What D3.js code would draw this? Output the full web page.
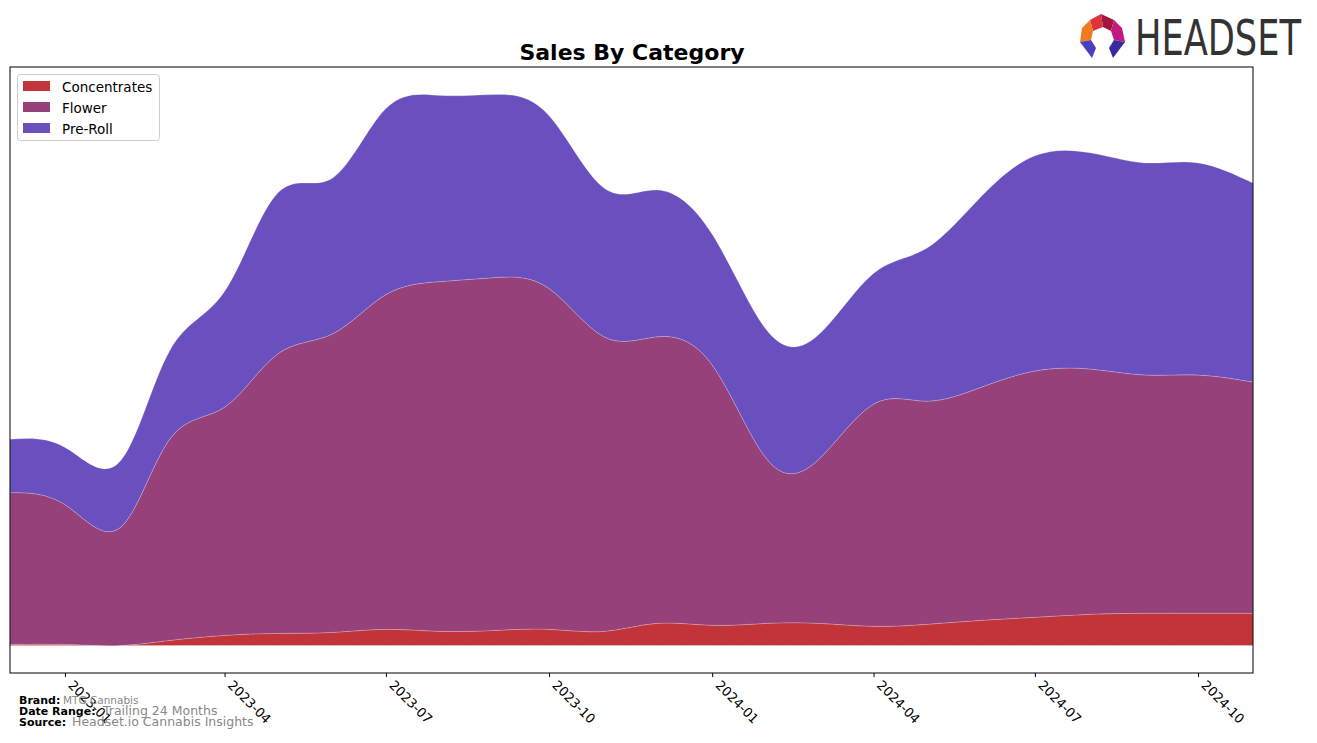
<!DOCTYPE html>
<html><head><meta charset="utf-8">
<script src="https://cdn.jsdelivr.net/npm/d3@7/dist/d3.min.js"></script>
<style>body{margin:0;background:#fff;} svg{display:block;}</style>
</head><body>
<svg id="chart" width="1317" height="743"></svg>
<script>
const months = ["2022-12","2023-01","2023-02","2023-03","2023-04","2023-05","2023-06","2023-07","2023-08","2023-09","2023-10","2023-11","2023-12","2024-01","2024-02","2024-03","2024-04","2024-05","2024-06","2024-07","2024-08","2024-09","2024-10","2024-11"];
const categories = ["Concentrates","Flower","Pre-Roll"];
const concentrates = [1,1,0,5,10,12,13,16,14,15,16,14,22,20,22,22,19,21,25,28,31,32,32,32];
const flower = [151,139,117,200,227,278,297,333,348,351,339,293,285,259,163,163,221,222,232,245,244,237,237,230];
const preRoll = [53,57,66,88,115,160,155,185,185,182,172,148,146,130,128,124,130,152,190,214,215,211,211,198];
const tickLabels = ["2023-01","2023-04","2023-07","2023-10","2024-01","2024-04","2024-07","2024-10"];
const colors = ["#c0343a","#964179","#6a4fbf"];

const svg = d3.select("#chart");
const L = 10, R = 1253, T = 67, B = 673;
const parse = d3.timeParse("%Y-%m");
const dates = months.map(parse);
const rows = months.map((m,i)=>({date:dates[i],"Concentrates":concentrates[i],"Flower":flower[i],"Pre-Roll":preRoll[i]}));
const stack = d3.stack().keys(categories)(rows);
const maxV = d3.max(stack[stack.length-1], d=>d[1]);
const x = d3.scaleTime().domain([dates[0], dates[dates.length-1]]).range([L,R]);
const y = d3.scaleLinear().domain([-0.05*maxV, 1.05*maxV]).range([B,T]);

svg.append("defs").append("clipPath").attr("id","clip").append("rect")
  .attr("x",L).attr("y",T).attr("width",R-L).attr("height",B-T);

const area = d3.area().x((d,i)=>x(dates[i])).y0(d=>y(d[0])).y1(d=>y(d[1])).curve(d3.curveNatural);
svg.append("g").attr("clip-path","url(#clip)").selectAll("path").data(stack).join("path")
  .attr("d", area).attr("fill",(d,i)=>colors[i])
  .attr("stroke", "rgba(255,255,255,0.25)").attr("stroke-width",0.8);

// frame
svg.append("rect").attr("x",L).attr("y",T).attr("width",R-L).attr("height",B-T)
  .attr("fill","none").attr("stroke","#000").attr("stroke-width",1);

// x axis
const xAxis = d3.axisBottom(x).tickValues(tickLabels.map(parse)).tickFormat(d3.timeFormat("%Y-%m")).tickSize(4).tickPadding(3);
const gx = svg.append("g").attr("transform",`translate(0,${B})`).call(xAxis);
gx.select(".domain").remove();
gx.selectAll(".tick line").attr("stroke","#000");
gx.selectAll(".tick text").attr("font-family","DejaVu Sans").attr("font-size",13).attr("fill","#000")
  .attr("text-anchor","start").attr("dy",0).attr("y",0)
  .attr("transform","translate(2,13) rotate(45)");

// title
svg.append("text").attr("x",632).attr("y",60).attr("text-anchor","middle")
  .attr("font-family","DejaVu Sans").attr("font-weight","bold").attr("font-size",22).text("Sales By Category");

// legend
const lg = svg.append("g");
lg.append("rect").attr("x",17.5).attr("y",74.5).attr("width",142).attr("height",66).attr("rx",3)
  .attr("fill","#fff").attr("fill-opacity",0.8).attr("stroke","#ccc");
categories.forEach((c,i)=>{
  lg.append("rect").attr("x",23).attr("y",81+i*21).attr("width",27).attr("height",10).attr("fill",colors[i]);
  lg.append("text").attr("x",62).attr("y",92+i*21).attr("font-family","DejaVu Sans").attr("font-size",13.5).text(c);
});

// footer
const foot = [["Brand:","MTG Cannabis",63,10.5],["Date Range:","Trailing 24 Months",103,12.5],["Source:","Headset.io Cannabis Insights",72,12.5]];
foot.forEach((f,i)=>{
  const yy = 704+i*11;
  svg.append("text").attr("x",19).attr("y",yy).attr("font-family","DejaVu Sans").attr("font-weight","bold").attr("font-size",11).text(f[0]);
  svg.append("text").attr("x",f[2]).attr("y",yy).attr("font-family","DejaVu Sans").attr("font-size",f[3]).attr("fill","#888").text(f[1]);
});

// logo
const lgo = svg.append("g");
const polys = [
  {p:[[1090,20],[1101,14],[1103,27],[1093,31]], c:"#e0333f"},
  {p:[[1101,14],[1114,20],[1111,31],[1103,27]], c:"#a3153a"},
  {p:[[1114,20],[1122,28],[1125,42],[1114,40],[1111,31]], c:"#c21a80"},
  {p:[[1090,20],[1093,31],[1091,40],[1080,42],[1082,28]], c:"#f07b22"},
  {p:[[1080,42],[1091,40],[1096,48],[1092,58]], c:"#4a3fc0"},
  {p:[[1125,42],[1114,40],[1109,48],[1113,58]], c:"#3a2aa0"}
];
polys.forEach(o=>lgo.append("polygon").attr("points",o.p.map(q=>q.join(",")).join(" ")).attr("fill",o.c));
const logoText = lgo.append("text").attr("x",0).attr("y",0).attr("font-family","DejaVu Sans Condensed, DejaVu Sans").attr("font-size",50)
  .attr("fill","#333").text("HEADSET");
const w = logoText.node().getComputedTextLength();
logoText.attr("transform",`translate(1135,55) scale(${166/w},1)`);
</script>
</body></html>
